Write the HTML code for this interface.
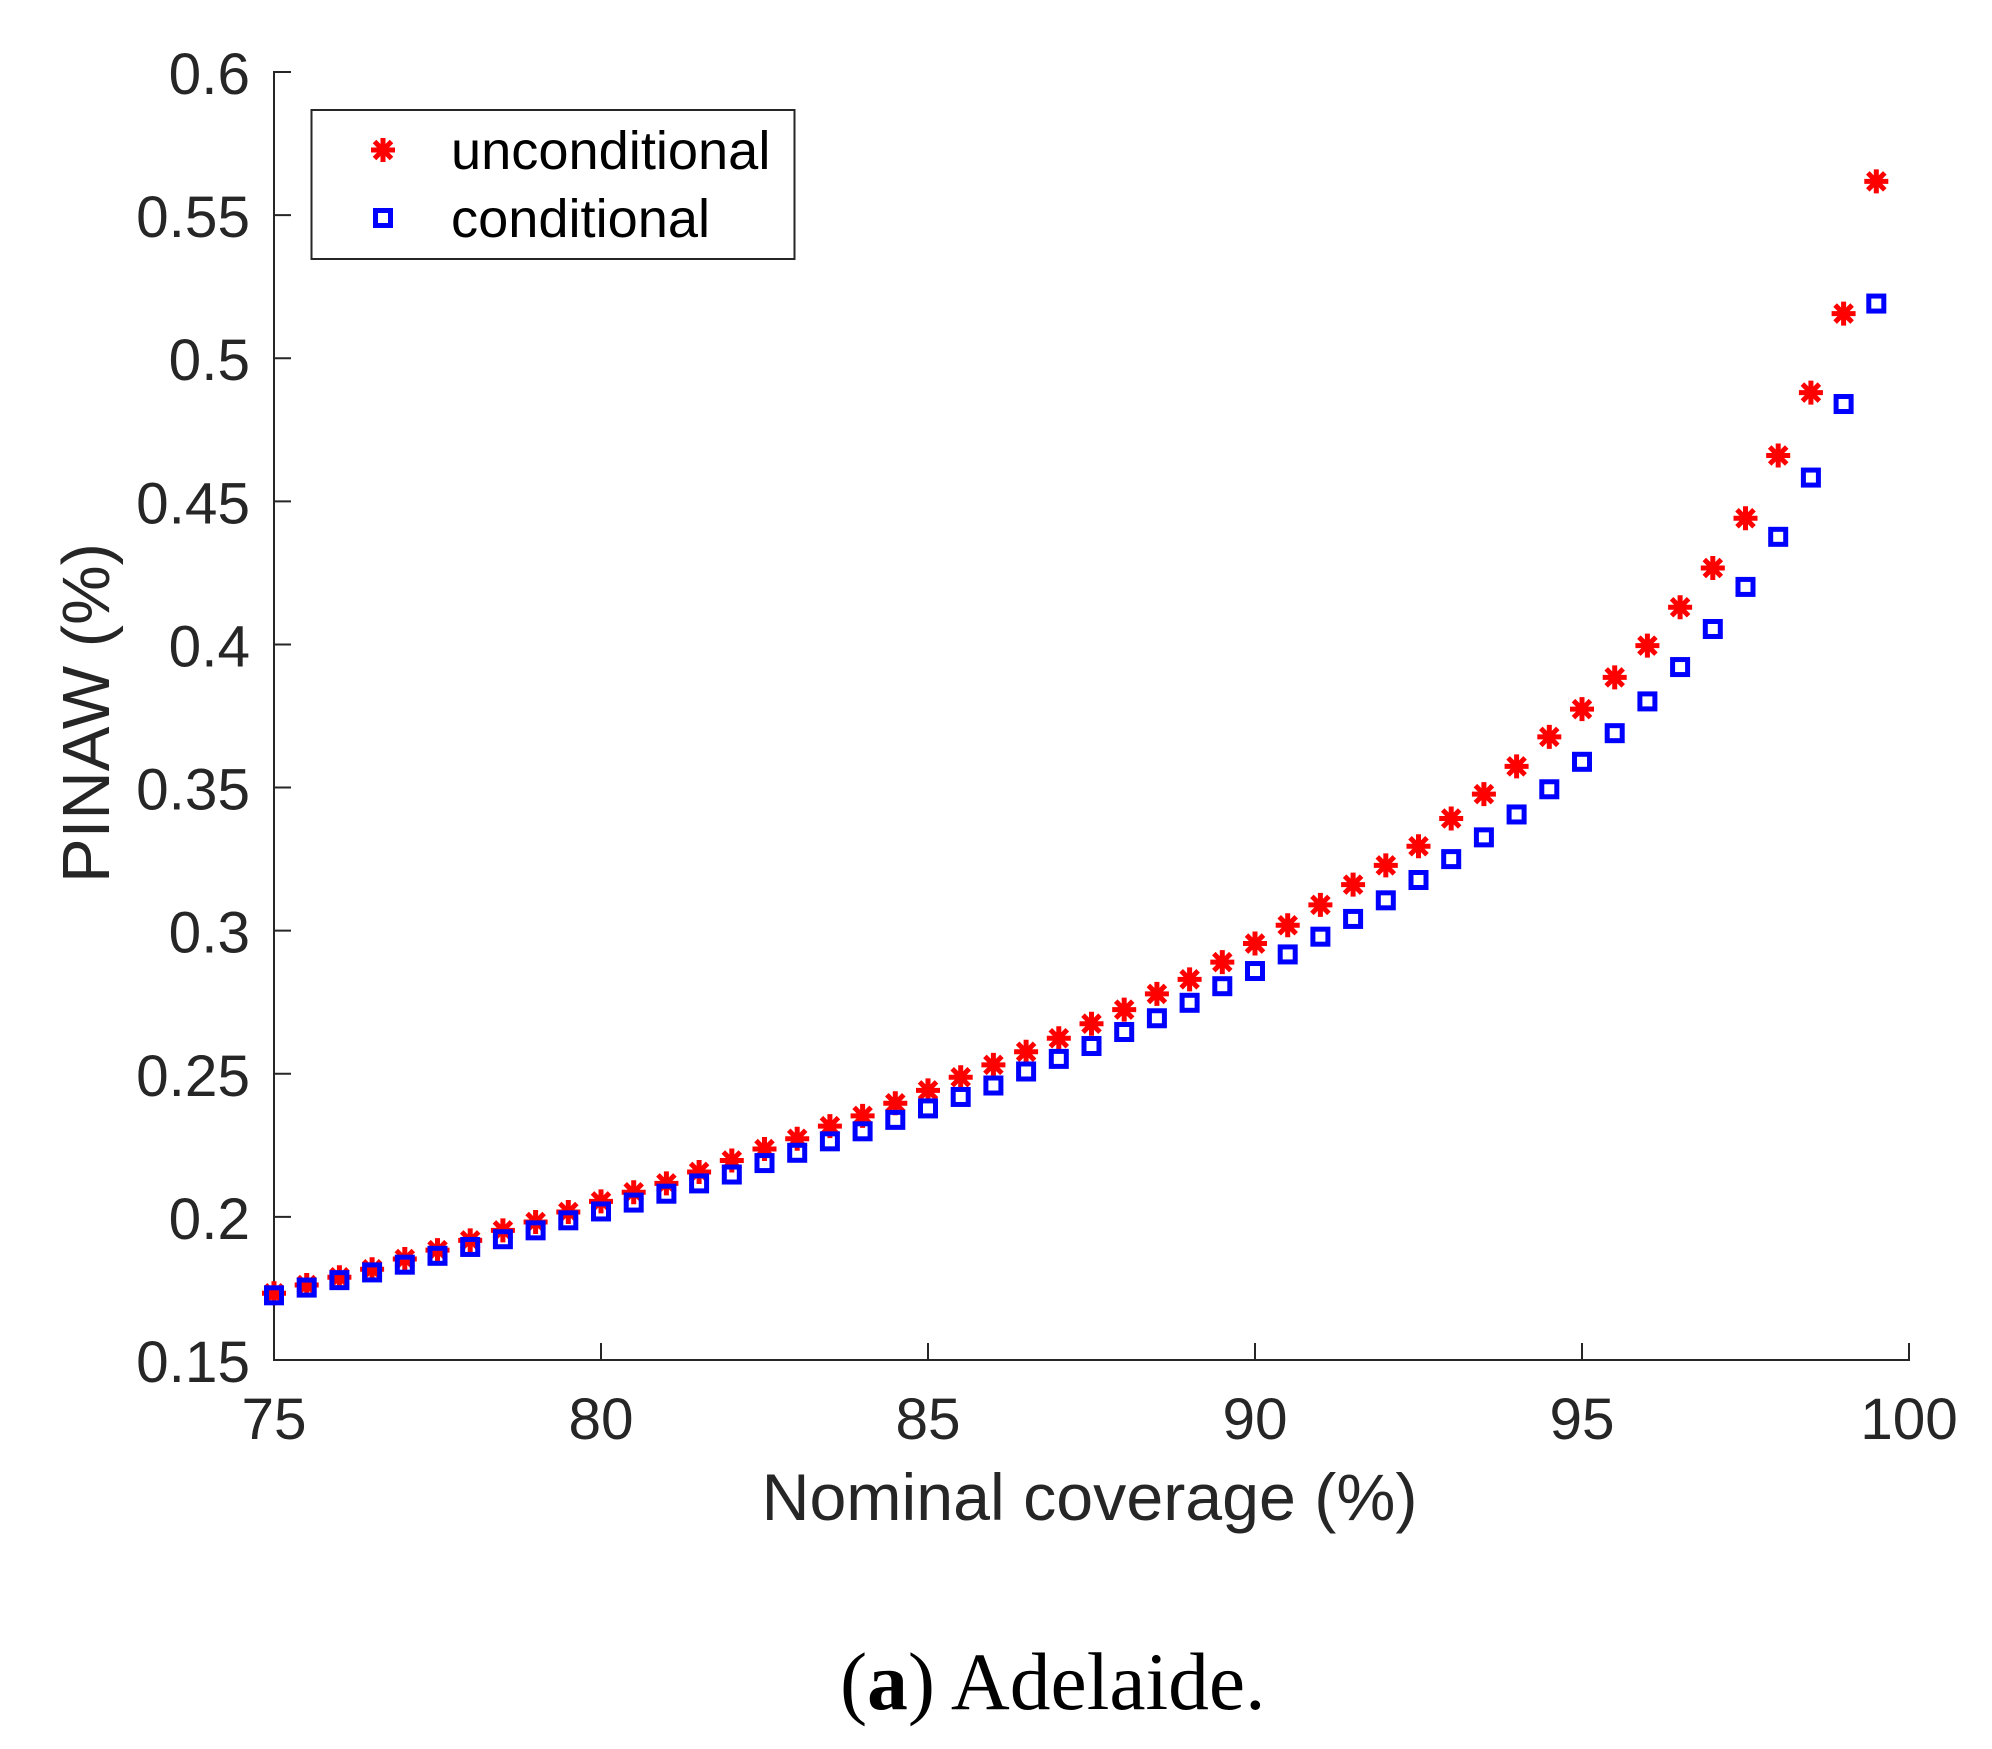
<!DOCTYPE html>
<html lang="en">
<head>
<meta charset="utf-8">
<title>PINAW vs nominal coverage, Adelaide</title>
<style>
  html, body { margin: 0; padding: 0; background: #fff; }
  svg { display: block; }
  text { font-family: "Liberation Sans", Arial, sans-serif; }
</style>
</head>
<body>
<svg id="chart" xmlns="http://www.w3.org/2000/svg" width="1992" height="1749" viewBox="0 0 1992 1749">
  <rect x="0" y="0" width="1992" height="1749" fill="#fff"/>
  <g id="ticks"></g>
  <line x1="274" y1="71" x2="274" y2="1361" stroke="#262626" stroke-width="2"/>
  <line x1="273" y1="1360" x2="1910" y2="1360" stroke="#262626" stroke-width="2"/>
  <g id="series-unconditional"></g>
  <g id="series-conditional"></g>

  <text x="1089.500" y="1520" font-size="66.300" text-anchor="middle" fill="#262626">Nominal coverage (%)</text>
  <text x="109" y="713" font-size="67" text-anchor="middle" fill="#262626" transform="rotate(-90 109 713)">PINAW (%)</text>

  <g>
    <rect x="311.500" y="110" width="483" height="149" fill="#fff" stroke="#262626" stroke-width="2"/>
    <g>
      <path d="M371 150H395M383 138V162M374.500 141.500L391.500 158.500M374.500 158.500L391.500 141.500" stroke="#ff0000" stroke-width="5" fill="none"/>
      <text x="451" y="169" font-size="54.200" fill="#000">unconditional</text>
    </g>
    <g>
      <rect x="375.500" y="210.500" width="15" height="15" fill="none" stroke="#0000ff" stroke-width="5"/>
      <text x="451" y="237" font-size="54.200" fill="#000">conditional</text>
    </g>
  </g>

  <text x="840" y="1709" font-size="81.500" fill="#000" style="font-family:'Liberation Serif',serif">(<tspan font-weight="bold">a</tspan>) Adelaide.</text>
</svg>

<script>
const coverage = [75,75.5,76,76.5,77,77.5,78,78.5,79,79.5,80,80.5,81,81.5,82,82.5,83,83.5,84,84.5,85,85.5,86,86.5,87,87.5,88,88.5,89,89.5,90,90.5,91,91.5,92,92.5,93,93.5,94,94.5,95,95.5,96,96.5,97,97.5,98,98.5,99,99.5];
const unconditional = [0.1733,0.1762,0.1789,0.1817,0.1853,0.1884,0.1918,0.1953,0.1982,0.2017,0.2054,0.2086,0.2117,0.2157,0.2197,0.2237,0.2273,0.2317,0.2353,0.2397,0.2442,0.2488,0.2531,0.2577,0.2624,0.2675,0.2724,0.2779,0.2830,0.2890,0.2955,0.3019,0.3090,0.3161,0.3228,0.3295,0.3392,0.3477,0.3574,0.3677,0.3774,0.3885,0.3996,0.4130,0.4267,0.4441,0.4660,0.4880,0.5156,0.5618];
const conditional = [0.1726,0.1753,0.1779,0.1806,0.1833,0.1864,0.1895,0.1922,0.1953,0.1988,0.2019,0.2050,0.2081,0.2117,0.2148,0.2188,0.2224,0.2264,0.2299,0.2339,0.2379,0.2419,0.2459,0.2508,0.2552,0.2597,0.2646,0.2694,0.2748,0.2806,0.2859,0.2917,0.2979,0.3041,0.3106,0.3177,0.3250,0.3326,0.3406,0.3494,0.3590,0.3690,0.3801,0.3921,0.4054,0.4201,0.4376,0.4583,0.4840,0.5191];
const xTicks = [75,80,85,90,95,100];
const yTicks = [0.15,0.2,0.25,0.3,0.35,0.4,0.45,0.5,0.55,0.6];
const xTickLabels = ["75","80","85","90","95","100"];
const yTickLabels = ["0.15","0.2","0.25","0.3","0.35","0.4","0.45","0.5","0.55","0.6"];

const NS = "http://www.w3.org/2000/svg";
const xScale = v => 274 + (v - 75) * (1909 - 274) / 25;
const yScale = v => 1360 - (v - 0.15) * (1360 - 72) / 0.45;

function make(tag, attrs, parent) {
  const el = document.createElementNS(NS, tag);
  for (const k in attrs) el.setAttribute(k, attrs[k]);
  parent.appendChild(el);
  return el;
}

const tickLayer = document.getElementById("ticks");
xTicks.forEach((t, i) => {
  const x = xScale(t);
  const tick = make("line", {x1: x, x2: x, y1: 1360, y2: 1343, stroke: "#262626", "stroke-width": 2}, tickLayer);
  
  
  const label = make("text", {x: x, y: 1439, "font-size": 58.5, "text-anchor": "middle", fill: "#262626"}, tickLayer);
  label.textContent = xTickLabels[i];
  
  
});
yTicks.forEach((t, i) => {
  const y = yScale(t);
  const tick = make("line", {x1: 274, x2: 291, y1: y, y2: y, stroke: "#262626", "stroke-width": 2}, tickLayer);
  
  
  const label = make("text", {x: 250, y: y + 22, "font-size": 58.5, "text-anchor": "end", fill: "#262626"}, tickLayer);
  label.textContent = yTickLabels[i];
  
  
});

const starLayer = document.getElementById("series-unconditional");
coverage.forEach((c, i) => {
  const x = xScale(c), y = yScale(unconditional[i]);
  const d = `M${x-12} ${y}H${x+12}M${x} ${y-12}V${y+12}M${x-8.500} ${y-8.500}L${x+8.500} ${y+8.500}M${x-8.500} ${y+8.500}L${x+8.500} ${y-8.500}`;
  const star = make("path", {d: d, stroke: "#ff0000", "stroke-width": 5, fill: "none"}, starLayer);
  
  
});

const squareLayer = document.getElementById("series-conditional");
coverage.forEach((c, i) => {
  const x = xScale(c), y = yScale(conditional[i]);
  const sq = make("rect", {x: x - 7.5, y: y - 7.5, width: 15, height: 15, stroke: "#0000ff", "stroke-width": 5, fill: "none"}, squareLayer);
  
  
});
</script>
</body>
</html>
